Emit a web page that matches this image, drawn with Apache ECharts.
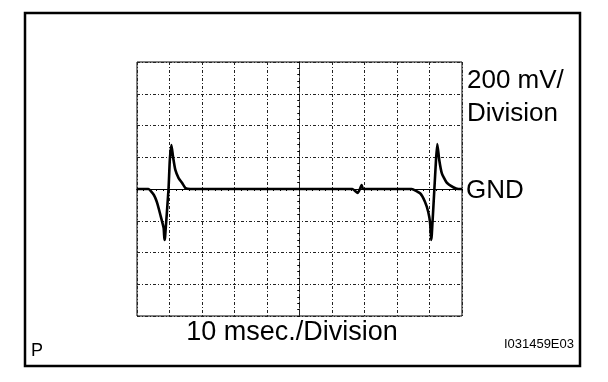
<!DOCTYPE html>
<html>
<head>
<meta charset="utf-8">
<script src="https://cdn.jsdelivr.net/npm/echarts@6/dist/echarts.min.js"></script>
<style>html,body{margin:0;padding:0;background:#fff;}#c{width:608px;height:382px;}</style>
</head>
<body>
<div id="c"></div>
<script>
// time in msec (10 msec / division), voltage in mV (200 mV / division), GND = 0
var timeMs = [0, 3.5, 5.2, 6.2, 7.2, 8.2, 8.45, 8.65, 9.7, 10.1, 10.6, 11.1, 11.8, 12.8, 13.9, 14.9, 16.4,
              66.3, 67.9, 68.5, 69.1, 69.6,
              84.5, 87.1, 88.6, 89.6, 90.2, 90.5, 90.7, 91.5, 92.0, 92.4, 93.0, 93.8, 95.3, 97.3, 98.9, 100];
var voltMv = [0, 0, -38, -88, -164, -246, -321, -300, 0, 183, 277, 202, 120, 69, 38, 6, 0,
              0, -25, -5, 25, 0,
              0, -27, -80, -143, -216, -321, -290, 0, 183, 283, 183, 99, 40, 11, 0, 0];
var xTicks = [0, 10, 20, 30, 40, 50, 60, 70, 80, 90, 100];
var yTicks = [-800, -600, -400, -200, 0, 200, 400, 600, 800];
var voltLabel = ['200 mV/', 'Division'];
var gndLabel = 'GND';
var timeLabel = '10 msec./Division';
var cornerLabel = 'P';
var figId = 'I031459E03';

var chart = echarts.init(document.getElementById('c'), null, {renderer: 'canvas'});
var pts = timeMs.map(function (t, i) { return [t, voltMv[i]]; });
var gridDash = {color: '#222', width: 1, type: [3, 2, 1, 2]};
var FONT = '"Liberation Sans", Arial, sans-serif';

function xAx(inside, split) {
  return {
    type: 'value', min: xTicks[0], max: xTicks[xTicks.length - 1], interval: 10,
    axisLine: {show: true, onZero: true, lineStyle: {color: '#000', width: 1}},
    axisTick: {show: true, inside: inside, length: 2, lineStyle: {color: '#000'}},
    minorTick: {show: true, splitNumber: 5, length: 2, lineStyle: {color: '#000'}},
    axisLabel: {show: false},
    splitLine: {show: split, lineStyle: gridDash}
  };
}
function yAx(inside, split) {
  return {
    type: 'value', min: yTicks[0], max: yTicks[yTicks.length - 1], interval: 200,
    axisLine: {show: true, onZero: true, onZeroAxisIndex: 2, lineStyle: {color: '#222', width: 1, type: [3, 2, 1, 2]}},
    axisTick: {show: true, inside: inside, length: 2, lineStyle: {color: '#000'}},
    minorTick: {show: true, splitNumber: 5, length: 2, lineStyle: {color: '#000'}},
    axisLabel: {show: false},
    splitLine: {show: split, lineStyle: gridDash}
  };
}

chart.setOption({
  animation: false,
  backgroundColor: '#fff',
  grid: {left: 137, top: 62, width: 325, height: 254, show: true, borderColor: '#000', borderWidth: 1, backgroundColor: 'transparent'},
  xAxis: [xAx(false, true), xAx(true, false),
          {type: 'value', min: -50, max: 50, show: false, axisLine: {onZero: false}}],
  yAxis: [yAx(false, true), yAx(true, false)],
  series: [{
    type: 'line', xAxisIndex: 0, yAxisIndex: 0, data: pts, symbol: 'none', smooth: 0.15,
    lineStyle: {color: '#000', width: 2.6}, z: 5
  }],
  graphic: [
    {type: 'rect', shape: {x: 25, y: 13, width: 555, height: 353}, style: {fill: null, stroke: '#000', lineWidth: 2.5}, z: 10},
    {type: 'text', x: 467, y: 81, style: {text: voltLabel[0], font: '26px ' + FONT, fill: '#000', textVerticalAlign: 'middle'}},
    {type: 'text', x: 467, y: 114, style: {text: voltLabel[1], font: '26px ' + FONT, fill: '#000', textVerticalAlign: 'middle'}},
    {type: 'text', x: 466, y: 191, style: {text: gndLabel, font: '26px ' + FONT, fill: '#000', textVerticalAlign: 'middle'}},
    {type: 'text', x: 292, y: 333, style: {text: timeLabel, font: '27px ' + FONT, fill: '#000', textAlign: 'center', textVerticalAlign: 'middle'}},
    {type: 'text', x: 31, y: 351, style: {text: cornerLabel, font: '18px ' + FONT, fill: '#000', textVerticalAlign: 'middle'}},
    {type: 'text', x: 574, y: 344, style: {text: figId, font: '13px ' + FONT, fill: '#000', textAlign: 'right', textVerticalAlign: 'middle'}}
  ]
});
</script>
</body>
</html>
